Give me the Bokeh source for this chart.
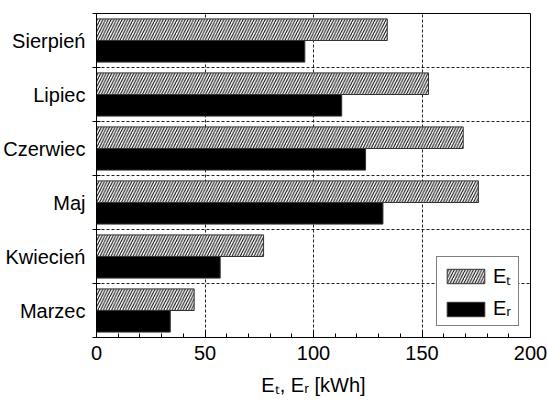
from bokeh.plotting import figure
from bokeh.models import ColumnDataSource, FixedTicker, Range1d, Legend, LegendItem
from bokeh.transform import dodge
from bokeh.embed import file_html
from bokeh.resources import INLINE

months = ["Marzec", "Kwiecień", "Maj", "Czerwiec", "Lipiec", "Sierpień"]
e_t = [45, 77, 176, 169, 153, 134]
e_r = [34, 57, 132, 124, 113, 96]
x_ticks = [0, 50, 100, 150, 200]

FONT = "Liberation Sans"

ypos = [i + 0.5 for i in range(len(months))]
src = ColumnDataSource(dict(y=ypos, et=e_t, er=e_r, m=months))

p = figure(width=548, height=403, x_range=Range1d(0, 200), y_range=Range1d(0, len(months)),
           output_backend="svg", toolbar_location=None,
           min_border_left=93, min_border_right=18, min_border_top=13, min_border_bottom=66)

r1 = p.hbar(y=dodge('y', 0.2), left=0, right='et', height=0.4, source=src,
            fill_color='white', hatch_pattern='/', hatch_color='black', hatch_scale=5.5,
            hatch_weight=1, line_color='#333333', line_width=1)
r2 = p.hbar(y=dodge('y', -0.2), left=0, right='er', height=0.4, source=src,
            fill_color='black', line_color='#333333', line_width=1)

p.xaxis.ticker = FixedTicker(ticks=x_ticks, minor_ticks=list(range(0, 201, 10)))
p.yaxis.ticker = FixedTicker(ticks=ypos, minor_ticks=list(range(len(months) + 1)))
p.yaxis.major_label_overrides = {y: m for y, m in zip(ypos, months)}

for ax in (p.xaxis[0], p.yaxis[0]):
    ax.axis_line_color = 'black'
    ax.major_label_text_font = FONT
    ax.major_label_text_font_size = '20px'
    ax.major_label_text_font_style = 'normal'
    ax.major_label_text_color = 'black'
    ax.major_tick_line_color = 'black'
    ax.minor_tick_line_color = 'black'

p.xaxis.major_tick_in = 7
p.xaxis.major_tick_out = 0
p.xaxis.minor_tick_in = 4
p.xaxis.minor_tick_out = 0
p.xaxis.major_label_standoff = 8
p.xaxis.axis_label = "Eₜ, Eᵣ [kWh]"
p.xaxis.axis_label_text_font = FONT
p.xaxis.axis_label_text_font_style = 'normal'
p.xaxis.axis_label_text_font_size = '20px'
p.xaxis.axis_label_text_color = 'black'
p.xaxis.axis_label_standoff = 11

p.yaxis.major_tick_in = 0
p.yaxis.major_tick_out = 0
p.yaxis.minor_tick_in = 4
p.yaxis.minor_tick_out = 4
p.yaxis.major_label_standoff = 7

p.xgrid.ticker = FixedTicker(ticks=[50, 100, 150])
p.ygrid.ticker = FixedTicker(ticks=list(range(1, len(months))))
for g in (p.xgrid[0], p.ygrid[0]):
    g.grid_line_color = '#222222'
    g.grid_line_dash = "3 2"
    g.grid_line_width = 1

p.outline_line_color = 'black'
p.outline_line_width = 1

legend = Legend(items=[LegendItem(label="Eₜ", renderers=[r1]),
                       LegendItem(label="Eᵣ", renderers=[r2])],
                location='bottom_right', margin=11, padding=5, spacing=8,
                glyph_width=47, glyph_height=18, label_standoff=4,
                label_text_font=FONT, label_text_font_size='20px',
                label_text_color='black',
                border_line_color='black', border_line_width=1,
                background_fill_alpha=1)
p.add_layout(legend)

open("out.html", "w").write(file_html(p, INLINE))
